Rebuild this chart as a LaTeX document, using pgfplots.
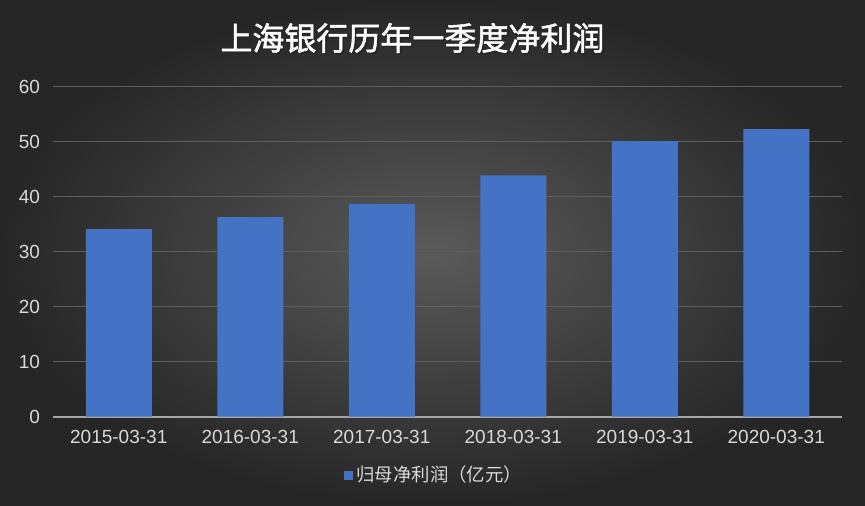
\documentclass[border=0pt]{standalone}
\usepackage{fontspec}
\setmainfont{Noto Sans CJK SC}
\newfontfamily\titlefont[FakeBold=1.6]{Noto Sans CJK SC}
\newfontfamily\tickfont{Liberation Sans}
\usepackage{pgfplots}
\pgfplotsset{compat=1.18}
\definecolor{barblue}{HTML}{4472C4}
\definecolor{gridc}{HTML}{5E5E5E}
\definecolor{axisc}{HTML}{A6A6A6}
\definecolor{tickc}{HTML}{D9D9D9}
\definecolor{bgin}{HTML}{5A5A5A}
\definecolor{bgout}{HTML}{262626}
\begin{document}
\begin{tikzpicture}[x=1pt,y=1pt]
\shade[inner color=bgin, outer color=bgout] (0,0) rectangle (432.5,252.5);
\node[text=black!85, font=\fontsize{16}{19}\selectfont\titlefont] at (207,232.7) {上海银行历年一季度净利润};
\node[text=white, font=\fontsize{16}{19}\selectfont\titlefont] at (206.2,233.5) {上海银行历年一季度净利润};
\begin{axis}[
  at={(26.5pt,44.15pt)}, anchor=south west,
  scale only axis, width=394.5pt, height=165pt,
  xmin=-0.5, xmax=5.5, ymin=0, ymax=60,
  ybar, bar width=33pt,
  xtick=data,
  xticklabels={2015-03-31,2016-03-31,2017-03-31,2018-03-31,2019-03-31,2020-03-31},
  ytick={10,20,...,60},
  extra y ticks={0},
  extra y tick style={grid style={color=axisc, line width=0.9pt}},
  ymajorgrids,
  grid style={color=gridc, line width=0.6pt},
  axis line style={draw=none},
  major tick length=0pt,
  tick label style={font=\fontsize{9.5}{11}\selectfont\tickfont, text=tickc},
  /pgf/number format/assume math mode=true,
  yticklabel style={xshift=-3pt},
  xticklabel style={yshift=-3pt},
  legend style={at={(0.484,-0.177)}, anchor=center, draw=none, fill=none,
    text=tickc, font=\fontsize{9.2}{10}\selectfont},
  legend image code/.code={\fill[barblue] (0pt,-2.25pt) rectangle (4.5pt,2.25pt);},
]
\addplot[fill=barblue, draw=none] coordinates {(0,34.1) (1,36.3) (2,38.7) (3,43.9) (4,50.1) (5,52.3)};
\legend{归母净利润（亿元）}
\end{axis}
\end{tikzpicture}
\end{document}
